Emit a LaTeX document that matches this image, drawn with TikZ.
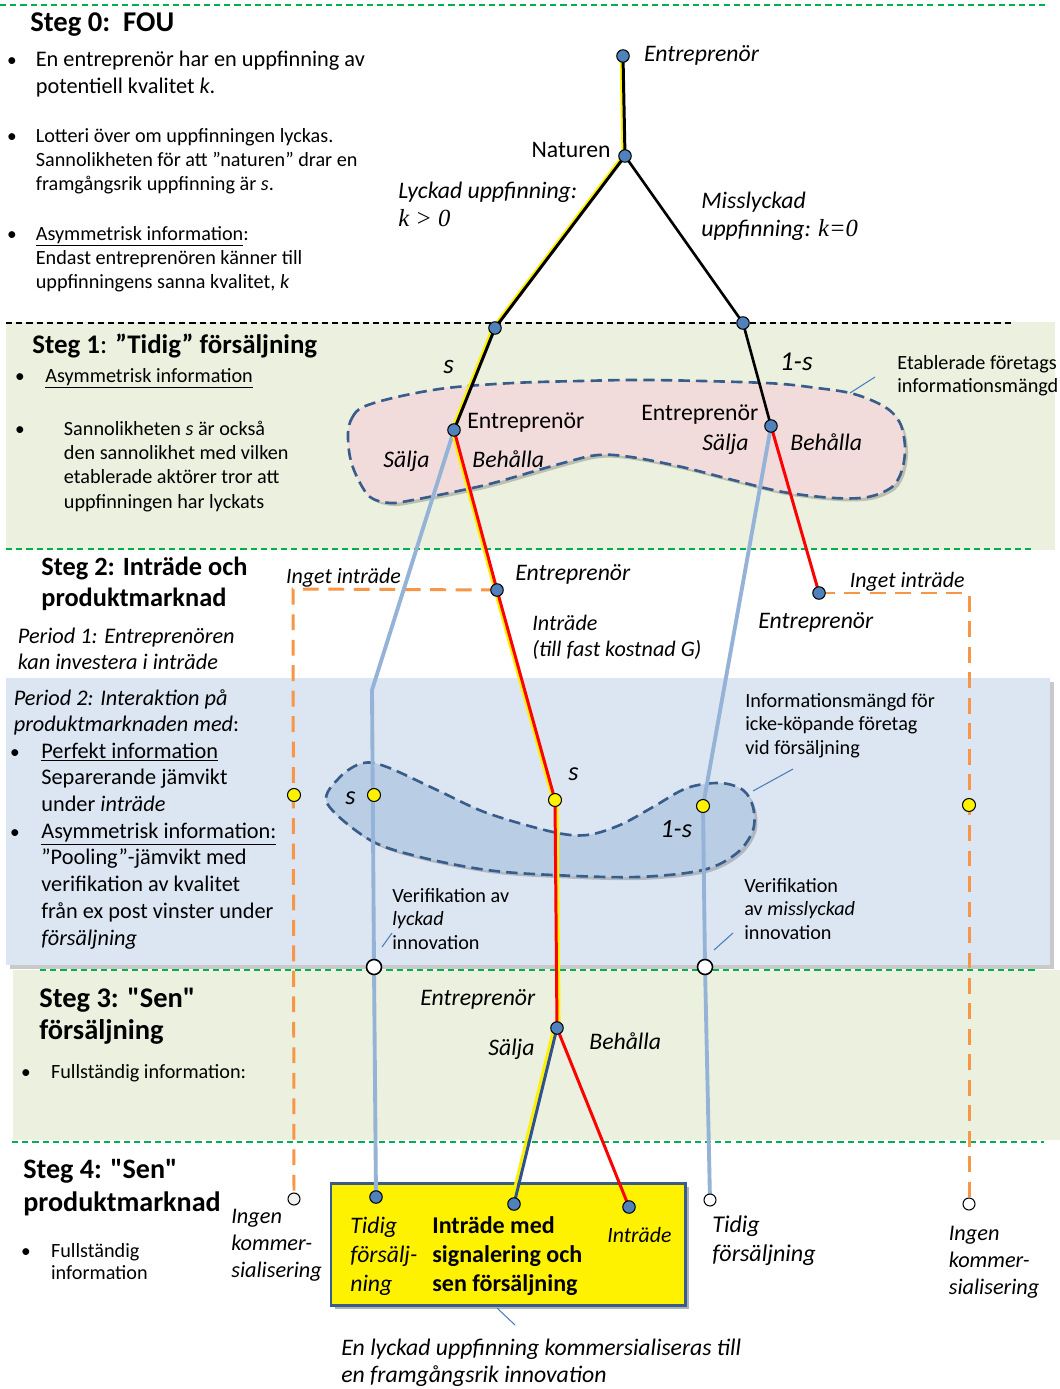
\documentclass[tikz,border=0pt]{standalone}
\usepackage{fontspec}
\setmainfont{Carlito}
\newfontfamily\tmsfont{Liberation Serif}
\newfontfamily\carlq{Carlito}[Ligatures=Common]
\usetikzlibrary{calc}
\definecolor{bgG}{HTML}{EBF1DE}
\definecolor{bgB}{HTML}{DCE6F2}
\definecolor{pinkF}{HTML}{F2DCDB}
\definecolor{blobB}{HTML}{B9CDE5}
\definecolor{setE}{HTML}{385D8A}
\definecolor{nodeB}{HTML}{4F81BD}
\definecolor{lblue}{HTML}{95B3D7}
\definecolor{orng}{HTML}{F79646}
\definecolor{grn}{HTML}{00B050}
\definecolor{dblue}{HTML}{2F528F}
\definecolor{ann}{HTML}{4A7EBB}
\newcommand\fsA{\fontsize{12.7pt}{15.3pt}\selectfont}
\newcommand\fsB{\fontsize{11.5pt}{13.9pt}\selectfont}
\newcommand\fsT{\fontsize{13.5pt}{16.4pt}\selectfont}
\newcommand\ml[1]{\begin{tabular}[t]{@{}l@{}}#1\end{tabular}}
\newcommand\sq{{\carlq "}}
\begin{document}
\begin{tikzpicture}[x=0.02cm,y=-0.02cm,
  txt/.style={anchor=base west, inner sep=0pt},
  bul/.style={anchor=base, inner sep=0pt, font=\fontsize{11pt}{13pt}\selectfont},
  bnode/.style={circle, fill=nodeB, draw=black, line width=0.6pt, inner sep=0pt, minimum size=0.25cm},
  ynode/.style={circle, fill=yellow, draw=black, line width=0.6pt, inner sep=0pt, minimum size=0.26cm},
  wnode/.style={circle, fill=white, draw=black, line width=0.9pt, inner sep=0pt, minimum size=0.3cm},
  wsnode/.style={circle, fill=white, draw=black, line width=0.6pt, inner sep=0pt, minimum size=0.24cm},
  blkline/.style={line width=1.7pt, black, line join=round},
  ylwline/.style={line width=1.7pt, yellow, line join=round},
  redline/.style={line width=1.7pt, red, line join=round},
  lbline/.style={line width=2.2pt, lblue, line join=round},
  orline/.style={line width=1.7pt, orng, dash pattern=on 9pt off 5.5pt},
  grnline/.style={line width=0.7pt, grn, dash pattern=on 3.5pt off 2.3pt},
  annline/.style={line width=0.6pt, ann},
  blobline/.style={line width=1.5pt, draw=setE, dash pattern=on 6.5pt off 3.5pt},
]
\useasboundingbox (0,0) rectangle (1060,1389);
\fill[white] (0,0) rectangle (1060,1389);
% ---------- bands
\fill[bgG] (6,322) rectangle (1055,550);
\fill[black!35, opacity=0.6] (10,682) rectangle (1054,969);
\fill[bgB] (6,678) rectangle (1050,965);
\fill[bgG] (13,970) rectangle (1060,1140);
% ---------- separators
\draw[grnline] (0,5) -- (1045,5);
\draw[line width=0.6pt, black, dash pattern=on 3.5pt off 2.3pt] (6,323) -- (1013,323);
\draw[grnline] (6,549) -- (1034,549);
\draw[grnline] (40,970) -- (1035,970);
\draw[grnline] (12,1142) -- (1044,1142);
% ---------- information sets
\fill[black, opacity=0.2, xshift=0.06cm, yshift=-0.06cm] plot[smooth cycle, tension=0.55] coordinates {(348,433) (352,418) (363,407) (397,397) (447,388) (513,383) (580,381) (650,380) (766,383) (817,388) (854,394) (885,407) (900,423) (905,447) (902,470) (892,487) (868,497) (834,498) (783,492) (733,480) (682,467) (631,457) (598,455) (563,463) (497,482) (463,490) (413,500) (390,503) (370,497) (357,477) (350,457)};
\filldraw[blobline, fill=pinkF] plot[smooth cycle, tension=0.55] coordinates {(348,433) (352,418) (363,407) (397,397) (447,388) (513,383) (580,381) (650,380) (766,383) (817,388) (854,394) (885,407) (900,423) (905,447) (902,470) (892,487) (868,497) (834,498) (783,492) (733,480) (682,467) (631,457) (598,455) (563,463) (497,482) (463,490) (413,500) (390,503) (370,497) (357,477) (350,457)};
\fill[black, opacity=0.2, xshift=0.06cm, yshift=-0.06cm] plot[smooth cycle, tension=0.55] coordinates {(327,803) (370,840) (420,857) (487,870) (553,875) (637,877) (703,870) (737,853) (753,830) (753,807) (743,790) (720,783) (687,788) (653,807) (620,825) (587,835) (553,832) (487,813) (437,790) (387,767) (363,763) (340,777)};
\filldraw[blobline, fill=blobB] plot[smooth cycle, tension=0.55] coordinates {(327,803) (370,840) (420,857) (487,870) (553,875) (637,877) (703,870) (737,853) (753,830) (753,807) (743,790) (720,783) (687,788) (653,807) (620,825) (587,835) (553,832) (487,813) (437,790) (387,767) (363,763) (340,777)};
% ---------- yellow box
\fill[black, opacity=0.3] (335,1187) rectangle (689,1309);
\filldraw[fill=yellow, draw=setE, line width=1.7pt] (331,1183) rectangle (685,1305);
% ---------- coordinates of tree points
\coordinate (E0) at (623,56);
\coordinate (N) at (625,156);
\coordinate (L) at (495,328);
\coordinate (R) at (743,323);
\coordinate (EL) at (454,430);
\coordinate (ER) at (771,426);
\coordinate (EM) at (497,590);
\coordinate (NE) at (819,593);
\coordinate (YM) at (555,800);
\coordinate (YL) at (374,795);
\coordinate (YR) at (703,806);
\coordinate (YOL) at (294,795);
\coordinate (YOR) at (969,805);
\coordinate (WL) at (374,967);
\coordinate (WR) at (705,967);
\coordinate (S3) at (557,1028);
\coordinate (BL) at (376,1197);
\coordinate (BM) at (514,1204);
\coordinate (BR) at (629,1207);
\coordinate (OL) at (294,1199);
\coordinate (TR) at (710,1200);
\coordinate (OR) at (969,1204);
\coordinate (kinkL) at (372,690);
\coordinate (cOL) at (293,589);
\coordinate (cOR) at (969,593);
\coordinate (OLe) at (294,1192);
\coordinate (ORe) at (969,1197);
% ---------- orange dashed paths
\draw[orline] (EM) -- (cOL) -- (OLe);
\draw[orline] (NE) -- (cOR) -- (ORe);
% ---------- light blue paths
\draw[lbline] (EL) -- (kinkL) -- (WL) -- (BL);
\draw[lbline] (ER) -- (YR) -- (WR) -- (TR);
% ---------- tree paths
\draw[ylwline, transform canvas={xshift=-1.1pt}] (E0) -- (N);
\draw[blkline] (E0) -- (N);
\draw[line width=1.5pt, black] (N) -- (R) -- (ER);
\draw[ylwline, transform canvas={xshift=-1.3pt}] (N) -- (L) -- (EL);
\draw[blkline] (N) -- (L) -- (EL);
\draw[ylwline, transform canvas={xshift=-1.2pt}] (EL) -- (EM) -- (YM);
\draw[redline] (EL) -- (EM) -- (YM);
\draw[ylwline, transform canvas={xshift=1.2pt}] (YM) -- (S3);
\draw[redline] (YM) -- (S3);
\draw[redline] (ER) -- (NE);
\draw[ylwline, transform canvas={xshift=-1.8pt}] (S3) -- (BM);
\draw[line width=1.7pt, dblue] (S3) -- (BM);
\draw[redline] (S3) -- (BR);
% ---------- nodes
\node[bnode] (nE0) at (E0) {};
\node[bnode] (nN) at (N) {};
\node[bnode] (nL) at (L) {};
\node[bnode] (nR) at (R) {};
\node[bnode] (nEL) at (EL) {};
\node[bnode] (nER) at (ER) {};
\node[bnode] (nEM) at (EM) {};
\node[bnode] (nNE) at (NE) {};
\node[ynode] (nYM) at (YM) {};
\node[ynode] (nYL) at (YL) {};
\node[ynode] (nYR) at (YR) {};
\node[ynode] (nYOL) at (YOL) {};
\node[ynode] (nYOR) at (YOR) {};
\node[wnode] (nWL) at (WL) {};
\node[wnode] (nWR) at (WR) {};
\node[bnode] (nS3) at (S3) {};
\node[bnode] (nBL) at (BL) {};
\node[bnode] (nBM) at (BM) {};
\node[bnode] (nBR) at (BR) {};
\node[wsnode, fill=black!5] (nOL) at (OL) {};
\node[wsnode] (nTR) at (TR) {};
\node[wsnode] (nOR) at (OR) {};
% ---------- annotation lines
\draw[annline] (850,393) -- (875,377);
\draw[annline] (753,791) -- (793,769);
\draw[annline] (382,947) -- (392,933);
\draw[annline] (714,950) -- (733,933);
\draw[annline] (497,1308) -- (515,1325);
% ---------- left column texts
\node[txt, font=\fontsize{16.3pt}{19pt}\selectfont\bfseries] (h0) at (30,32) {Steg 0:\hspace{0.45em}FOU};
\node[bul] (b01) at (12,67) {•};
\node[txt, font=\fsA] (t01) at (35.5,67) {\ml{En entreprenör har en uppfinning av\\potentiell kvalitet \textit{k}.}};
\node[bul] (b02) at (12,142) {•};
\node[txt, font=\fsB] (t02) at (35.5,142) {\ml{Lotteri över om uppfinningen lyckas.\\Sannolikheten för att ”naturen” drar en\\framgångsrik uppfinning är \textit{s}.}};
\node[bul] (b03) at (12,240) {•};
\node[txt, font=\fsB] (t03) at (35.5,240) {\ml{\underline{Asymmetrisk information}:\\Endast entreprenören känner till\\uppfinningens sanna kvalitet, \textit{k}}};
\node[txt, font=\fontsize{15.3pt}{18pt}\selectfont] (h1) at (32,353) {\textbf{Steg 1}: \textbf{”Tidig” försäljning}};
\node[bul] (b11) at (20,382) {•};
\node[txt, font=\fsB] (t11) at (45,382) {\underline{Asymmetrisk information}};
\node[bul] (b12) at (20,435) {•};
\node[txt, font=\fontsize{11.5pt}{13.9pt}\selectfont] (t12) at (63.6,435) {\ml{Sannolikheten \textit{s} är också\\den sannolikhet med vilken\\etablerade aktörer tror att\\uppfinningen har lyckats}};
\node[txt, font=\fontsize{15pt}{18.1pt}\selectfont\bfseries] (h2) at (41,575) {\ml{Steg 2: Inträde och\\produktmarknad}};
\node[txt, font=\fontsize{12.7pt}{14.8pt}\selectfont\itshape] (t21) at (17.6,643) {\ml{Period 1: Entreprenören\\kan investera i inträde}};
\node[txt, font=\fsA] (t22) at (13.5,705) {\ml{\textit{Period 2: Interaktion på}\\\textit{produktmarknaden med}:}};
\node[bul] (b23) at (15,758) {•};
\node[txt, font=\fsA] (t23) at (41,758) {\ml{\underline{Perfekt information}\\Separerande jämvikt\\under \textit{inträde}}};
\node[bul] (b24) at (15,838) {•};
\node[txt, font=\fsA] (t24) at (41,838) {\ml{\underline{Asymmetrisk information:}\\”Pooling”-jämvikt med\\verifikation av kvalitet\\från ex post vinster under\\\textit{försäljning}}};
\node[txt, font=\fontsize{16.2pt}{18.7pt}\selectfont\bfseries] (h3) at (39,1007) {\ml{Steg 3: \sq Sen\sq\\försäljning}};
\node[bul] (b31) at (26,1078) {•};
\node[txt, font=\fsB] (t31) at (50.7,1078) {Fullständig information:};
\node[txt, font=\fontsize{16pt}{19.3pt}\selectfont\bfseries] (h4) at (23,1178) {\ml{Steg 4: \sq Sen\sq\\produktmarknad}};
\node[bul] (b41) at (26,1257) {•};
\node[txt, font=\fontsize{11.5pt}{13pt}\selectfont] (t41) at (50.7,1257) {\ml{Fullständig\\information}};
% ---------- tree labels
\node[txt, font=\fsT\itshape] (l1) at (643.7,62) {Entreprenör};
\node[anchor=base east, inner sep=0pt, font=\fsT] (l2) at (611,157) {Naturen};
\node[txt, font=\fontsize{13.5pt}{16.4pt}\selectfont] (l3) at (398,198) {\ml{\textit{Lyckad uppfinning:}\\{\tmsfont\itshape\fontsize{14pt}{16.4pt}\selectfont k > 0}}};
\node[txt, font=\fontsize{13.5pt}{16.4pt}\selectfont] (l4) at (701,208) {\ml{\textit{Misslyckad}\\\textit{uppfinning:} {\tmsfont\itshape\fontsize{14pt}{16.4pt}\selectfont k=0}}};
\node[txt, font=\fontsize{15.5pt}{18pt}\selectfont\itshape] (l5) at (443,373) {s};
\node[txt, font=\fontsize{15.5pt}{18pt}\selectfont\itshape] (l6) at (779.5,370) {1-s};
\node[txt, font=\fsT] (l7) at (467,428) {Entreprenör};
\node[txt, font=\fsT] (l8) at (641,420) {Entreprenör};
\node[txt, font=\fsT\itshape] (l9) at (383,467) {Sälja};
\node[txt, font=\fsT\itshape] (l10) at (472,467) {Behålla};
\node[txt, font=\fsT\itshape] (l11) at (702,450) {Sälja};
\node[txt, font=\fsT\itshape] (l12) at (790,450) {Behålla};
\node[txt, font=\fontsize{11.5pt}{13.6pt}\selectfont] (l13) at (897,369) {\ml{Etablerade företags\\informationsmängd}};
\node[txt, font=\fontsize{12.5pt}{15pt}\selectfont\itshape] (l14) at (285.7,583) {Inget inträde};
\node[txt, font=\fsT\itshape] (l15) at (515,580) {Entreprenör};
\node[txt, font=\fontsize{12.6pt}{15.3pt}\selectfont\itshape] (l16) at (532,630) {\ml{Inträde\\(till fast kostnad G)}};
\node[txt, font=\fontsize{12.5pt}{15pt}\selectfont\itshape] (l17) at (849.5,587) {Inget inträde};
\node[txt, font=\fsT\itshape] (l18) at (758,628) {Entreprenör};
\node[txt, font=\fontsize{11.5pt}{13.6pt}\selectfont] (l19) at (745,707) {\ml{Informationsmängd för\\icke-köpande företag\\vid försäljning}};
\node[txt, font=\fontsize{15pt}{18pt}\selectfont\itshape] (l20) at (568,780) {s};
\node[txt, font=\fontsize{15pt}{18pt}\selectfont\itshape] (l21) at (345,804) {s};
\node[txt, font=\fontsize{15pt}{18pt}\selectfont\itshape] (l22) at (660,837) {1-s};
\node[txt, font=\fontsize{11.5pt}{13.6pt}\selectfont] (l23) at (392,902) {\ml{Verifikation av\\\textit{lyckad}\\innovation}};
\node[txt, font=\fontsize{11.5pt}{13.6pt}\selectfont] (l24) at (744,892) {\ml{Verifikation\\av \textit{misslyckad}\\innovation}};
\node[txt, font=\fsT\itshape] (l25) at (420,1005) {Entreprenör};
\node[txt, font=\fsT\itshape] (l26) at (488,1055) {Sälja};
\node[txt, font=\fsT\itshape] (l27) at (589,1049) {Behålla};
% ---------- bottom labels
\node[txt, font=\fontsize{12.7pt}{15.6pt}\selectfont\itshape] (l28) at (231,1223) {\ml{Ingen\\kommer-\\sialisering}};
\node[txt, font=\fontsize{13.5pt}{16.7pt}\selectfont\itshape] (l29) at (350,1233) {\ml{Tidig\\försälj-\\ning}};
\node[txt, font=\fontsize{13.7pt}{16.7pt}\selectfont\bfseries] (l30) at (432,1233) {\ml{Inträde med\\signalering och\\sen försäljning}};
\node[txt, font=\fontsize{12.4pt}{15pt}\selectfont\itshape] (l31) at (607,1242) {Inträde};
\node[txt, font=\fontsize{13.7pt}{17pt}\selectfont\itshape] (l32) at (712,1232) {\ml{Tidig\\försäljning}};
\node[txt, font=\fontsize{12.7pt}{15.6pt}\selectfont\itshape] (l33) at (948.5,1240) {\ml{Ingen\\kommer-\\sialisering}};
\node[txt, font=\fontsize{13.5pt}{15.9pt}\selectfont\itshape] (l34) at (341,1355) {\ml{En lyckad uppfinning kommersialiseras till\\en framgångsrik innovation}};
\end{tikzpicture}
\end{document}
